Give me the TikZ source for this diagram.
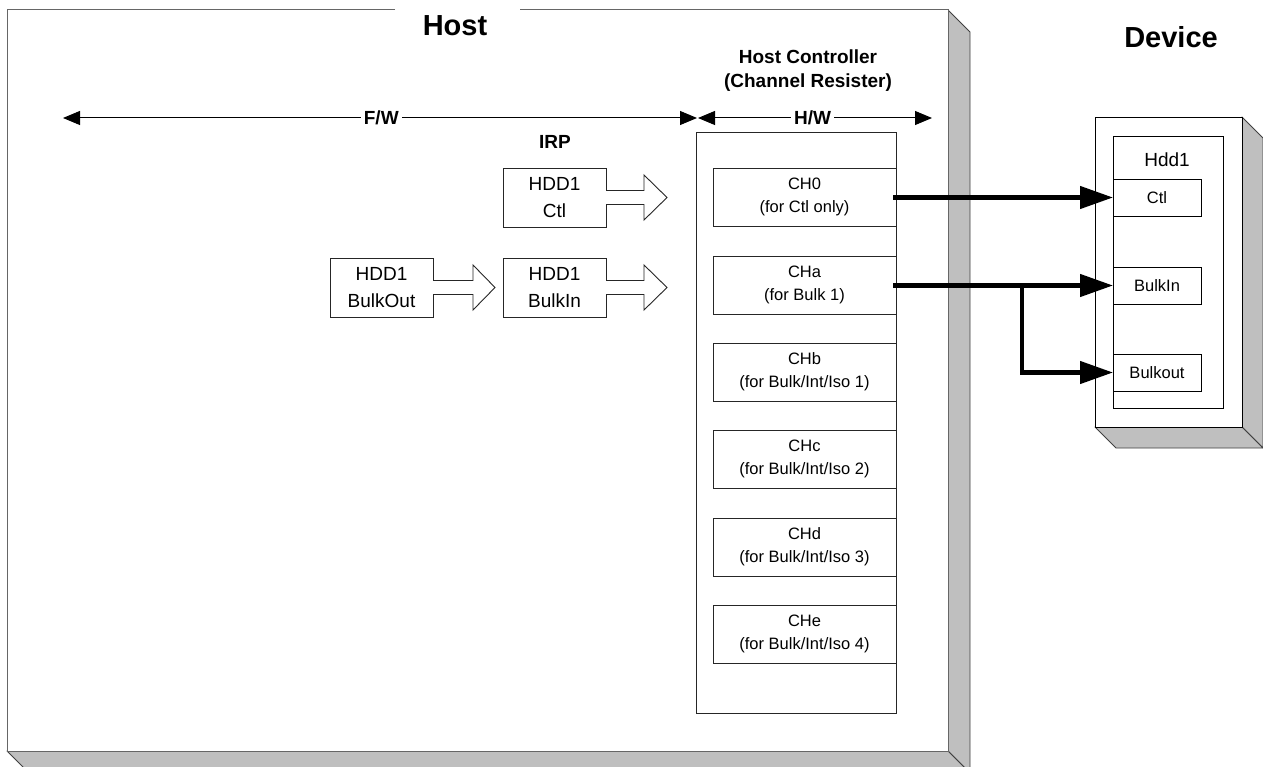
\documentclass[tikz,border=0pt]{standalone}
\usepackage{fontspec}
\setmainfont{Liberation Sans}
\usetikzlibrary{arrows.meta,calc}

\begin{document}
\begin{tikzpicture}[x=1pt,y=-1pt,
  box/.style={draw=black!85,line width=0.9pt,fill=white,rectangle,inner sep=0pt,
    outer sep=0pt,anchor=north west,align=center},
  irpbox/.style={box,minimum width=103pt,minimum height=59pt,
    font=\fontsize{19}{27}\selectfont},
  chbox/.style={box,minimum width=183pt,minimum height=58pt,
    font=\fontsize{16.5}{23}\selectfont},
  devbox/.style={box,draw=black,minimum width=88pt,minimum height=37pt,
    font=\fontsize{16.5}{20}\selectfont},
  shade/.style={fill=black!25,draw=black!75,line width=0.9pt,line join=round},
  title/.style={font=\fontsize{29}{32}\selectfont\bfseries,inner sep=0pt},
  label/.style={font=\fontsize{19}{24}\selectfont\bfseries,align=center,inner sep=2pt},
  span/.style={line width=1pt,{Triangle[length=17pt,width=14pt]}-{Triangle[length=17pt,width=14pt]}},
  hollow/.style={draw=black!85,line width=0.9pt,fill=white,line join=miter},
  bus/.style={line width=4.5pt,-{Triangle[length=33pt,width=22pt]}}
]
\useasboundingbox (0,0) rectangle (1263,767);

% ---------- Host enclosure (3-D box) ----------
\fill[shade] (948,10) -- (970,32) -- (970,773) -- (948,751) -- cycle;
\fill[shade] (7,751) -- (948,751) -- (970,773) -- (29,773) -- cycle;
\fill[white] (7,10) rectangle (948,751);
\draw[black!60,line width=1pt] (395,10) -- (7,10) -- (7,751) -- (948,751) -- (948,10) -- (520,10);
\node[title] (hosttitle) at (455,26) {Host};

% ---------- Device enclosure (3-D box) ----------
\fill[shade] (1242,117) -- (1263,138) -- (1263,448) -- (1242,427) -- cycle;
\fill[shade] (1095,427) -- (1242,427) -- (1263,448) -- (1116,448) -- cycle;
\draw[black,line width=0.9pt,fill=white] (1095,117) rectangle (1242,427);
\node[title] (devtitle) at (1171,37) {Device};

% ---------- firmware / hardware spans ----------
\coordinate (fwL) at (63,118);
\coordinate (fwR) at (697,118);
\coordinate (hwL) at (698,118);
\coordinate (hwR) at (932,118);

% ---------- host controller ----------
\node[box,minimum width=200pt,minimum height=581pt] (hc) at (696,132) {};
\node[label] (hclabel) at (808,71) {Host Controller\\(Channel Resister)};

\draw[span] (fwL) -- (fwR) node[pos=0.502,fill=white,inner sep=3pt,font=\fontsize{19}{24}\selectfont\bfseries] (fw) {F/W};
\draw[span] (hwL) -- (hwR) node[pos=0.49,fill=white,inner sep=3pt,font=\fontsize{19}{24}\selectfont\bfseries] (hw) {H/W};

\node[chbox] (ch0) at (713,168) {CH0\\(for Ctl only)};
\node[chbox] (cha) at (713,256) {CHa\\(for Bulk 1)};
\node[chbox] (chb) at (713,343) {CHb\\(for Bulk/Int/Iso 1)};
\node[chbox] (chc) at (713,430) {CHc\\(for Bulk/Int/Iso 2)};
\node[chbox] (chd) at (713,518) {CHd\\(for Bulk/Int/Iso 3)};
\node[chbox] (che) at (713,605) {CHe\\(for Bulk/Int/Iso 4)};

% ---------- IRP queue ----------
\node[label] (irp) at (555,142) {IRP};
\node[irpbox] (irpctl) at (503,168) {HDD1\\Ctl};
\node[irpbox] (irpin) at (503,258) {HDD1\\BulkIn};
\node[irpbox] (irpout) at (330,258) {HDD1\\BulkOut};

% hollow block arrows leaving the IRP boxes (y axis points down)
\draw[hollow] ([yshift=7pt]irpctl.east) -- ++(38,0) -- ++(0,-15.5) -- ++(23,22.5)
  -- ++(-23,22.5) -- ++(0,-15.5) -- ++(-38,0);
\draw[hollow] ([yshift=7pt]irpin.east) -- ++(38,0) -- ++(0,-15.5) -- ++(23,22.5)
  -- ++(-23,22.5) -- ++(0,-15.5) -- ++(-38,0);
\draw[hollow] ([yshift=7pt]irpout.east) -- ++(40,0) -- ++(0,-15.5) -- ++(22,22.5)
  -- ++(-22,22.5) -- ++(0,-15.5) -- ++(-40,0);

% ---------- device endpoints ----------
\node[box,draw=black,minimum width=110pt,minimum height=272pt] (hdd) at (1113,136) {};
\node[font=\fontsize{19}{22}\selectfont,inner sep=0pt] (hddlabel) at (1167,160) {Hdd1};
\node[devbox] (ctl) at (1113,179) {Ctl};
\node[devbox] (bulkin) at (1113,267) {BulkIn};
\node[devbox] (bulkout) at (1113,354) {Bulkout};

% ---------- channel-to-endpoint links ----------
\draw[bus] ([xshift=-3pt]ctl.west -| ch0.east) -- (ctl.west);
\draw[bus] ([xshift=-3pt]bulkin.west -| cha.east) -- (bulkin.west);
\coordinate (split) at ([xshift=-91pt]bulkin.west);
\draw[bus,line join=miter] ([yshift=2.25pt]split) |- (bulkout.west);
\end{tikzpicture}
\end{document}
